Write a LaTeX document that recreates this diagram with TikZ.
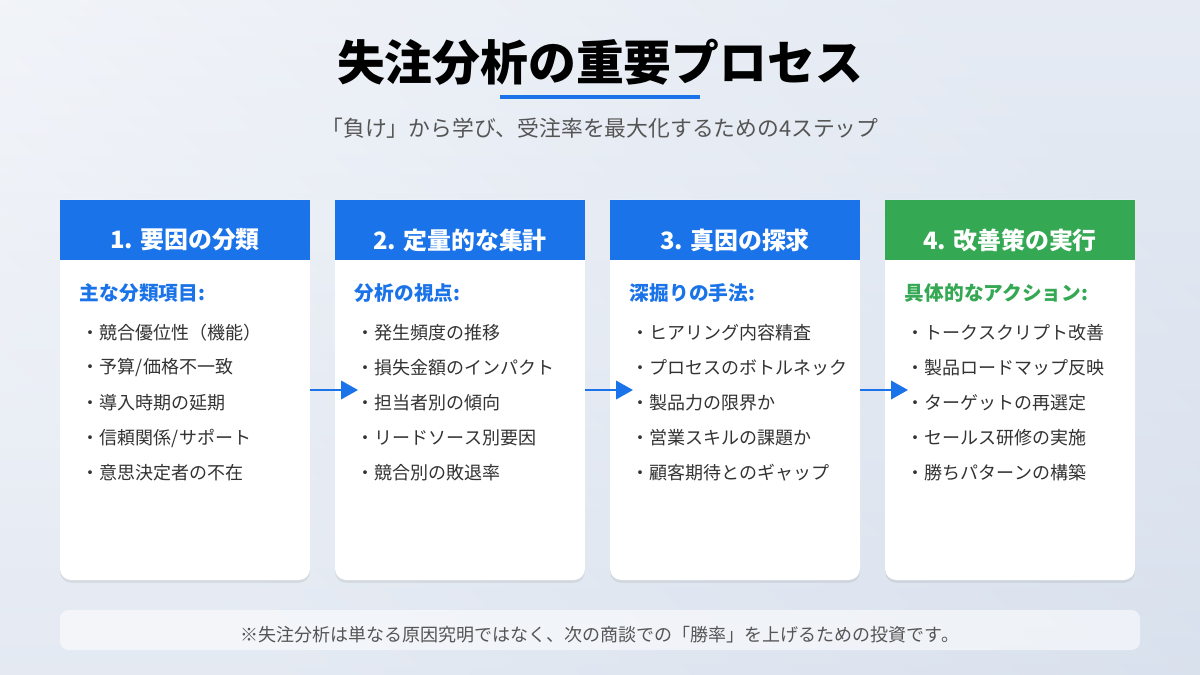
\documentclass[tikz,border=0pt]{standalone}
\usepackage{fontspec}
\setmainfont{Noto Sans CJK JP}
\usetikzlibrary{shadows,arrows.meta}
\definecolor{bgA}{HTML}{F4F6FA}
\definecolor{bgB}{HTML}{D5DEEC}
\definecolor{blu}{HTML}{1A73E8}
\definecolor{grn}{HTML}{34A853}
\definecolor{txt}{HTML}{333333}
\definecolor{sub}{HTML}{555555}
\tikzset{
 card/.style={fill=white,rounded corners=8pt,drop shadow={opacity=0.15,shadow xshift=0pt,shadow yshift=-2pt}},
 head/.style={font=\fontsize{17}{19}\selectfont\bfseries,text=white},
 subh/.style={font=\fontsize{14}{16}\selectfont\bfseries,anchor=west},
 item/.style={font=\fontsize{12.8}{15}\selectfont,text=txt,anchor=west},
 arr/.style={draw=blu,line width=1.8pt,-{Triangle[length=12pt,width=13pt]}}
}
\begin{document}
\begin{tikzpicture}[x=0.025cm,y=-0.025cm]
\useasboundingbox (0,0) rectangle (1200,675);
\shade[left color=bgA,right color=bgB,shading angle=135] (0,0) rectangle (1200,675);
\shade[top color=bgA!70!white,bottom color=bgB,opacity=0.5] (0,0) rectangle (1200,675);
\node (title) at (600,62) {\fontsize{34}{36}\selectfont\bfseries 失注分析の重要プロセス};
\draw[blu,line width=2.2pt] (500,97) -- (700,97);
\node[text=sub] (subtitle) at (600,128) {\fontsize{15.5}{17}\selectfont 「負け」から学び、受注率を最大化するための4ステップ};
\newcommand\mkcard[6]{%
 \fill[card,sharp corners] (#1,200) -- ++(250,0) [rounded corners=8pt] -- ++(0,380) -- ++(-250,0) [sharp corners] -- cycle;
 \fill[#2] (#1,200) rectangle ++(250,60);
 \node[head] (h#3) at (#1+125,240) {#4};
 \node[subh,text=#2] (s#3) at (#1+15,293) {#5};
 \foreach \t [count=\i] in {#6} \node[item] at (#1+17,298+35*\i) {・\t};
}
\mkcard{60}{blu}{1}{1. 要因の分類}{主な分類項目:}{競合優位性（機能）,予算/価格不一致,導入時期の延期,信頼関係/サポート,意思決定者の不在}
\mkcard{335}{blu}{2}{2. 定量的な集計}{分析の視点:}{発生頻度の推移,損失金額のインパクト,担当者別の傾向,リードソース別要因,競合別の敗退率}
\mkcard{610}{blu}{3}{3. 真因の探求}{深掘りの手法:}{ヒアリング内容精査,プロセスのボトルネック,製品力の限界か,営業スキルの課題か,顧客期待とのギャップ}
\mkcard{885}{grn}{4}{4. 改善策の実行}{具体的なアクション:}{トークスクリプト改善,製品ロードマップ反映,ターゲットの再選定,セールス研修の実施,勝ちパターンの構築}
\coordinate (a1) at (310,390); \coordinate (b1) at (358,390);
\coordinate (a2) at (585,390); \coordinate (b2) at (633,390);
\coordinate (a3) at (860,390); \coordinate (b3) at (908,390);
\draw[arr] (a1) -- (b1); \draw[arr] (a2) -- (b2); \draw[arr] (a3) -- (b3);
\fill[white,opacity=0.55,rounded corners=6pt] (60,610) rectangle (1140,650);
\node[text=sub] (foot) at (600,635) {\fontsize{12.8}{14}\selectfont ※失注分析は単なる原因究明ではなく、次の商談での「勝率」を上げるための投資です。};
\end{tikzpicture}
\end{document}
